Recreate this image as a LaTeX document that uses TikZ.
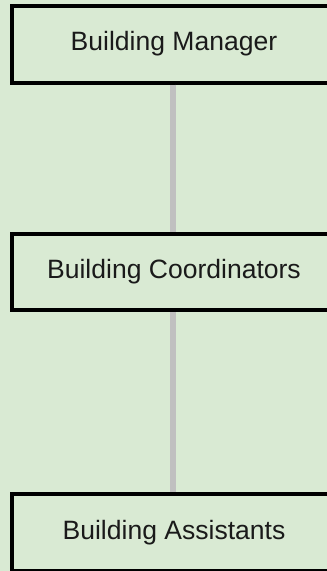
\documentclass[tikz,border=0pt]{standalone}
\usepackage{fontspec}
\setmainfont{Liberation Sans}
\definecolor{bggreen}{HTML}{D9EAD3}
\definecolor{linkgrey}{HTML}{C0C0C0}
\definecolor{textblack}{HTML}{1A1A1A}
\begin{document}
\begin{tikzpicture}[x=0.75pt,y=-0.75pt,
  rolebox/.style={draw=black, line width=3pt, fill=bggreen, rectangle,
    minimum width=243pt, inner sep=0pt, text=textblack,
    font=\fontsize{19.9}{24}\selectfont},
  link/.style={draw=linkgrey, line width=4.5pt}]
\useasboundingbox (0,0) rectangle (327,571);
\clip (0,0) rectangle (327,571);
\fill[bggreen] (0,0) rectangle (327,571);
\node[rolebox, minimum height=57.75pt] (mgr) at (174,44) {Building Manager};
\node[rolebox, minimum height=57pt] (coord) at (174,272) {Building Coordinators};
\node[rolebox, minimum height=57.4pt] (asst) at (174,532.25) {Building Assistants};
\draw[link] ([xshift=-0.75pt]mgr.south) -- ([xshift=-0.75pt]coord.north);
\draw[link] ([xshift=-0.75pt]coord.south) -- ([xshift=-0.75pt]asst.north);
\end{tikzpicture}
\end{document}
